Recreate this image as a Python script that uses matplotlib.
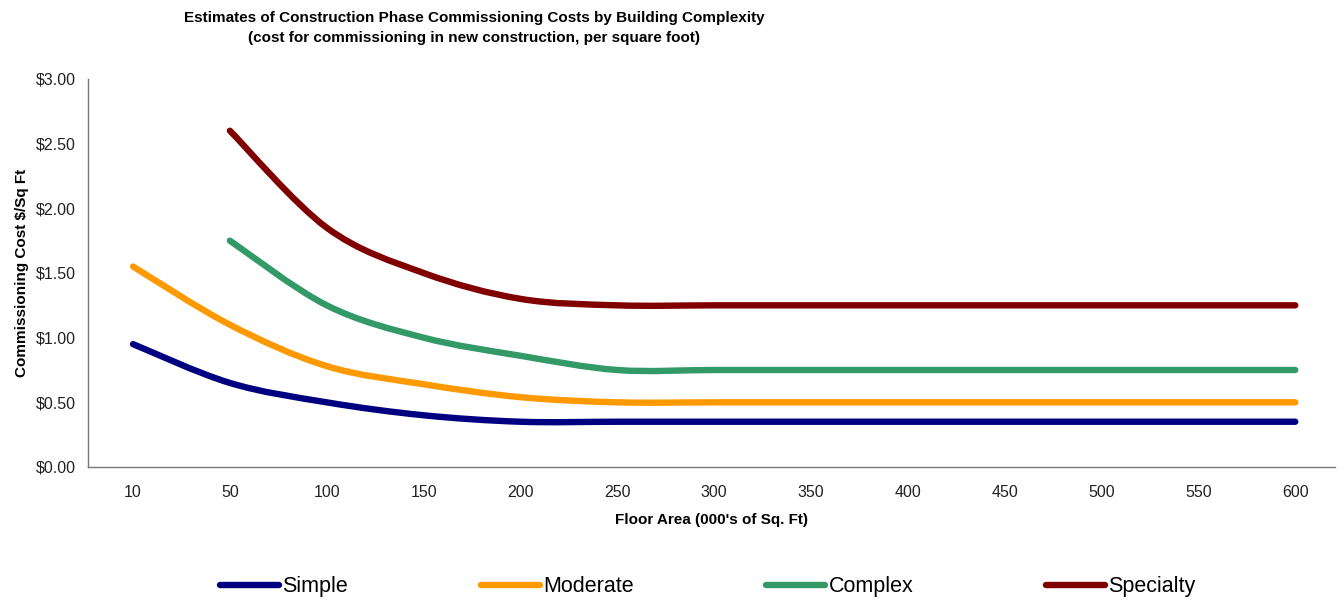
import numpy as np
import matplotlib
matplotlib.use("Agg")
import matplotlib.pyplot as plt
from matplotlib.path import Path
from matplotlib.patches import PathPatch

plt.rcParams["font.family"] = ["Liberation Sans", "DejaVu Sans"]

floor_area = ["10", "50", "100", "150", "200", "250", "300", "350",
              "400", "450", "500", "550", "600"]
simple = [0.95, 0.65, 0.50, 0.40, 0.35, 0.35, 0.35, 0.35, 0.35, 0.35, 0.35, 0.35, 0.35]
moderate = [1.55, 1.10, 0.78, 0.64, 0.54, 0.50, 0.50, 0.50, 0.50, 0.50, 0.50, 0.50, 0.50]
complex_ = [np.nan, 1.75, 1.25, 1.00, 0.86, 0.75, 0.75, 0.75, 0.75, 0.75, 0.75, 0.75, 0.75]
specialty = [np.nan, 2.60, 1.85, 1.50, 1.30, 1.25, 1.25, 1.25, 1.25, 1.25, 1.25, 1.25, 1.25]

series = [("Simple", simple, "#000080"),
          ("Moderate", moderate, "#FF9900"),
          ("Complex", complex_, "#339966"),
          ("Specialty", specialty, "#800000")]


def smooth_path(xs, ys):
    # Excel-like smoothed line: cubic bezier through each point
    pts = np.column_stack([xs, ys])
    n = len(pts)
    verts = [pts[0]]
    codes = [Path.MOVETO]
    for i in range(n - 1):
        p0 = pts[i - 1] if i > 0 else pts[i]
        p1 = pts[i]
        p2 = pts[i + 1]
        p3 = pts[i + 2] if i + 2 < n else pts[i + 1]
        c1 = p1 + (p2 - p0) / 6
        c2 = p2 - (p3 - p1) / 6
        verts += [c1, c2, p2]
        codes += [Path.CURVE4] * 3
    return Path(verts, codes)


fig = plt.figure(figsize=(13.43, 6.0), dpi=100)
ax = fig.add_axes([88 / 1343, 133 / 600, 1247 / 1343, 388 / 600])

x = np.arange(len(floor_area))
for name, vals, color in series:
    v = np.array(vals, dtype=float)
    ok = ~np.isnan(v)
    patch = PathPatch(smooth_path(x[ok], v[ok]), facecolor="none", edgecolor=color,
                      lw=4.6, capstyle="round", joinstyle="round")
    ax.add_patch(patch)
    ax.plot([], [], color=color, lw=4.6, solid_capstyle="round", label=name)

ax.set_xlim(-0.465, 12.41)
ax.set_ylim(0, 3.0)
ax.set_xticks(x)
ax.set_xticklabels(floor_area)
ax.set_yticks(np.arange(0, 3.01, 0.5))
ax.set_yticklabels([f"${t:.2f}" for t in np.arange(0, 3.01, 0.5)])
ax.tick_params(length=0, labelsize=11.5, colors="#222222")
ax.tick_params(axis="x", pad=13)
ax.tick_params(axis="y", pad=9)

for s in ["top", "right"]:
    ax.spines[s].set_visible(False)
for s in ["left", "bottom"]:
    ax.spines[s].set_color("#777777")
    ax.spines[s].set_linewidth(1.0)

ax.set_xlabel("Floor Area (000's of Sq. Ft)", fontsize=11, fontweight="bold", labelpad=9)
ax.set_ylabel("Commissioning Cost $/Sq Ft", fontsize=11, fontweight="bold", labelpad=5)

fig.text(0.353, 0.982, "Estimates of Construction Phase Commissioning Costs by Building Complexity\n"
         "(cost for commissioning in new construction, per square foot)",
         ha="center", va="top", fontsize=11, fontweight="bold", linespacing=1.6)

fig.legend(loc="center", bbox_to_anchor=(0.527, 0.022), ncol=4, frameon=False,
           fontsize=15.5, handlelength=2.74, handletextpad=0.14, columnspacing=6.18)

fig.savefig("out.png", dpi=100)
